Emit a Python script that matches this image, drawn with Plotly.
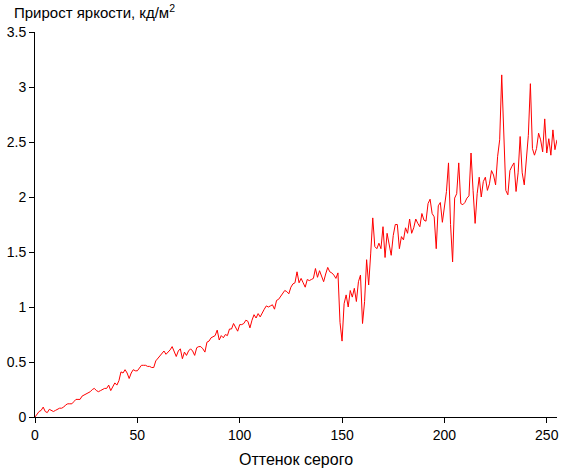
import plotly.graph_objects as go

gray_level = list(range(256))

brightness_gain = [
    0.00, 0.03, 0.05, 0.06, 0.09, 0.05, 0.04, 0.07, 0.06, 0.05,
    0.06, 0.07, 0.08, 0.08, 0.09, 0.11, 0.12, 0.12, 0.12, 0.14,
    0.16, 0.16, 0.16, 0.19, 0.20, 0.21, 0.22, 0.23, 0.25, 0.26,
    0.24, 0.23, 0.24, 0.25, 0.26, 0.26, 0.29, 0.24, 0.27, 0.31,
    0.29, 0.33, 0.41, 0.40, 0.43, 0.40, 0.35, 0.40, 0.43, 0.42,
    0.42, 0.45, 0.47, 0.47, 0.47, 0.46, 0.46, 0.45, 0.45, 0.51,
    0.53, 0.56, 0.58, 0.60, 0.57, 0.59, 0.61, 0.64, 0.59, 0.55,
    0.60, 0.62, 0.53, 0.59, 0.56, 0.60, 0.62, 0.60, 0.56, 0.63,
    0.64, 0.64, 0.62, 0.59, 0.68, 0.69, 0.72, 0.73, 0.74, 0.79,
    0.70, 0.74, 0.72, 0.75, 0.74, 0.80, 0.80, 0.85, 0.82, 0.78,
    0.84, 0.84, 0.85, 0.88, 0.87, 0.81, 0.88, 0.93, 0.90, 0.94,
    0.91, 0.95, 0.98, 1.01, 1.00, 1.01, 1.02, 0.98, 1.06, 1.07,
    1.10, 1.12, 1.15, 1.14, 1.12, 1.18, 1.21, 1.22, 1.32, 1.22,
    1.26, 1.22, 1.18, 1.25, 1.24, 1.25, 1.26, 1.35, 1.27, 1.33,
    1.27, 1.23, 1.30, 1.36, 1.32, 1.31, 1.29, 1.26, 1.31, 0.86,
    0.69, 1.03, 1.11, 1.00, 1.15, 1.09, 1.17, 1.05, 1.23, 1.29,
    0.85, 1.05, 1.43, 1.20, 1.49, 1.81, 1.55, 1.53, 1.58, 1.53,
    1.73, 1.45, 1.67, 1.58, 1.47, 1.65, 1.75, 1.75, 1.53, 1.64,
    1.61, 1.72, 1.67, 1.80, 1.67, 1.72, 1.80, 1.76, 1.73, 1.85,
    1.79, 1.78, 1.94, 1.98, 1.85, 1.82, 1.53, 1.92, 1.95, 1.77,
    1.91, 2.05, 2.31, 1.75, 1.41, 1.99, 2.03, 2.31, 1.94, 1.93,
    1.95, 1.99, 2.01, 2.40, 2.06, 1.76, 2.03, 2.18, 2.00, 2.14,
    2.18, 2.06, 2.12, 2.24, 2.20, 2.11, 2.37, 2.52, 3.11, 2.61,
    2.06, 2.02, 2.24, 2.28, 2.31, 2.05, 2.22, 2.55, 2.22, 2.11,
    2.32, 2.56, 3.03, 2.44, 2.38, 2.44, 2.58, 2.52, 2.41, 2.71,
    2.40, 2.53, 2.38, 2.61, 2.43, 2.52,
]

x_ticks = [0, 50, 100, 150, 200, 250]
y_ticks = [0, 0.5, 1, 1.5, 2, 2.5, 3, 3.5]
y_labels = ["0", "0.5", "1", "1.5", "2", "2.5", "3", "3.5"]

fig = go.Figure()
fig.add_trace(go.Scatter(
    x=gray_level, y=brightness_gain, mode="lines",
    line=dict(color="#ff0000", width=1), showlegend=False,
))

axis_common = dict(
    showgrid=False, zeroline=False, showline=True, linecolor="black", linewidth=1,
    ticks="outside", ticklen=5, tickcolor="black",
    tickfont=dict(family="Liberation Sans, Arial", size=14, color="black"),
)

fig.update_layout(
    width=561, height=471,
    paper_bgcolor="white", plot_bgcolor="white",
    margin=dict(l=35, r=4, t=32, b=54, autoexpand=False),
    font=dict(family="Liberation Sans, Arial", size=14, color="black"),
    xaxis=dict(range=[0, 255], tickvals=x_ticks,
               title=dict(text="Оттенок серого", standoff=12, font=dict(size=16)),
               **axis_common),
    yaxis=dict(range=[0, 3.5], tickvals=y_ticks, ticktext=y_labels, **axis_common),
    annotations=[dict(
        text="Прирост яркости, кд/м<sup>2</sup>", xref="paper", yref="paper",
        x=-0.045, y=1.0, yshift=32, xanchor="left", yanchor="top",
        showarrow=False, font=dict(size=15),
    )],
)

# drop the default 8px body margin so the figure sits at the page corner
fig.write_html("out.html", config={"displayModeBar": False},
               post_script="document.body.style.margin='0';")
